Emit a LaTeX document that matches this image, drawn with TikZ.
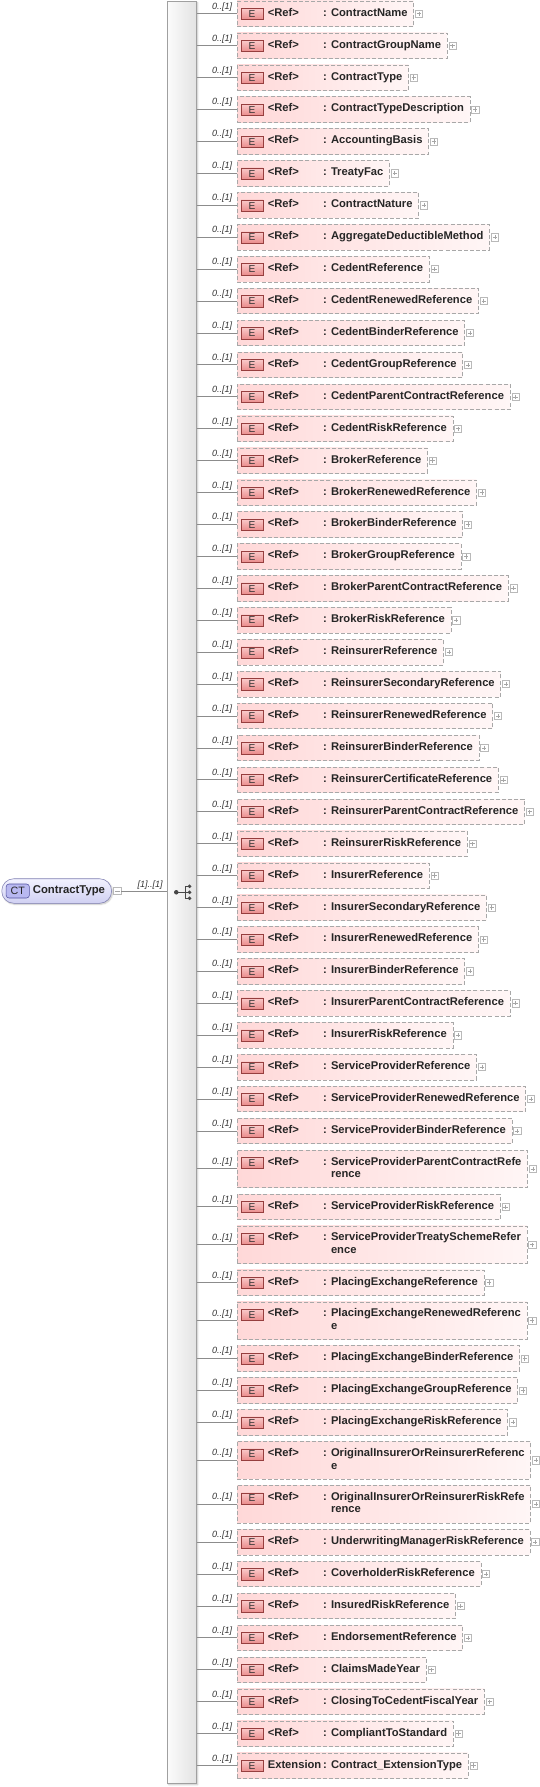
\documentclass[tikz,border=0pt]{standalone}
\usepackage{fontspec}
\setmainfont{Liberation Sans}
\setsansfont{Liberation Sans}
\usetikzlibrary{positioning,shadows.blur}

\definecolor{elemfill}{RGB}{255,216,216}
\definecolor{elemfade}{RGB}{255,246,246}
\definecolor{elemline}{RGB}{168,168,168}
\definecolor{badgetop}{RGB}{250,202,202}
\definecolor{badgebot}{RGB}{234,140,140}
\definecolor{badgeline}{RGB}{150,62,62}
\definecolor{cttop}{RGB}{242,242,255}
\definecolor{ctbot}{RGB}{208,208,242}
\definecolor{ctline}{RGB}{128,128,178}
\definecolor{ctbadgefill}{RGB}{184,184,240}
\definecolor{ctbadgeline}{RGB}{82,82,160}
\definecolor{barline}{RGB}{160,160,160}
\definecolor{connline}{RGB}{140,140,140}

% label field, colon, then the (possibly wrapped) type name
\newcommand{\refrow}[2]{\hspace*{18.6pt}\makebox[41.5pt][l]{#1}: \begin{tabular}[t]{@{}l@{}}#2\end{tabular}}

\begin{document}
\begin{tikzpicture}[
  x=0.75pt, y=-0.75pt,
  font=\sffamily,
  elem/.style={rectangle, draw=elemline, dash pattern=on 3pt off 1.6pt, left color=elemfill, right color=elemfade, inner xsep=4.5pt, inner ysep=4.65pt, outer sep=0pt, minimum height=19.1pt, font=\fontsize{8.4}{9.4}\selectfont\bfseries, text=black!85},
  badge/.style={rectangle, draw=badgeline, top color=badgetop, bottom color=badgebot, minimum width=16.5pt, minimum height=8.4pt, inner sep=0pt, font=\fontsize{7.6}{8}\selectfont, text=black!80},
  plusbox/.style={rectangle, draw=gray!55, fill=white, minimum size=5.4pt, inner sep=0pt, path picture={\draw[gray!70, line width=0.4pt] ([xshift=1.1pt]path picture bounding box.west) -- ([xshift=-1.1pt]path picture bounding box.east) ([yshift=-1.1pt]path picture bounding box.north) -- ([yshift=1.1pt]path picture bounding box.south);}},
  minusbox/.style={rectangle, draw=gray!55, fill=white, minimum size=5.6pt, inner sep=0pt, path picture={\draw[gray!70, line width=0.4pt] ([xshift=1.1pt]path picture bounding box.west) -- ([xshift=-1.1pt]path picture bounding box.east);}},
  mult/.style={inner sep=0pt, font=\fontsize{6.8}{7}\selectfont\itshape, text=black!80},
  conn/.style={draw=connline, line width=0.6pt},
  seqbar/.style={rectangle, draw=barline, left color=gray!3, right color=gray!22, inner sep=0pt, blur shadow={shadow xshift=1pt, shadow yshift=-1pt, shadow blur radius=1.2pt, shadow opacity=25}},
  ctnode/.style={rectangle, rounded corners=9pt, draw=ctline, top color=cttop, bottom color=ctbot, minimum height=18.4pt, inner xsep=4.9pt, font=\fontsize{8.5}{9.4}\selectfont\bfseries, text=black!85, blur shadow={shadow xshift=0.8pt, shadow yshift=-0.8pt, shadow blur radius=1pt, shadow opacity=25}},
  ctbadge/.style={rectangle, rounded corners=2.2pt, draw=ctbadgeline, fill=ctbadgefill, minimum width=17.5pt, minimum height=10.5pt, inner sep=0pt, font=\fontsize{8}{8}\selectfont, text=black!85},
  seqdot/.style={fill=black!72}
]
\useasboundingbox (0,0) rectangle (539,1787);

% sequence compositor bar
\node[seqbar, anchor=north west, minimum width=21.75pt, minimum height=1336.5pt] (seq) at (167,1) {};
\begin{scope}[shift={(seq.center)}]
  \draw[black!72, line width=0.6pt] (-5.5,0) -- (3.5,0) (3.5,-6) -- (3.5,6) (3.5,-6) -- (7.8,-6) (3.5,6) -- (7.8,6) (3.5,0) -- (7.8,0);
  \fill[seqdot] (-5.5,0) circle (1.7pt);
  \fill[seqdot] (7.8,-6) circle (1.45pt) (7.8,0) circle (1.45pt) (7.8,6) circle (1.45pt);
\end{scope}

% complex type
\node[ctnode, anchor=west] (ct) at (1.5,891) {\hspace*{18.4pt}ContractType};
\node[ctbadge] (ctb) at ([xshift=12.2pt]ct.west) {CT};
\node[minusbox, anchor=west] (ctm) at ([xshift=1.1pt]ct.east) {};
\coordinate (ctend) at (ctm.east -| seq.west);
\draw[conn] (ctm.east) -- (ctend);
\node[mult, anchor=base east] (ctmult) at ([shift={(-4,-3.5)}]ctend) {[1]..[1]};

% child elements
\node[elem, anchor=north west] (r1) at (237,1) {\refrow{<Ref>}{ContractName}};
\node[elem, below right=4.84pt and 0pt of r1.south west] (r2) {\refrow{<Ref>}{ContractGroupName}};
\node[elem, below right=4.84pt and 0pt of r2.south west] (r3) {\refrow{<Ref>}{ContractType}};
\node[elem, below right=4.84pt and 0pt of r3.south west] (r4) {\refrow{<Ref>}{ContractTypeDescription}};
\node[elem, below right=4.84pt and 0pt of r4.south west] (r5) {\refrow{<Ref>}{AccountingBasis}};
\node[elem, below right=4.84pt and 0pt of r5.south west] (r6) {\refrow{<Ref>}{TreatyFac}};
\node[elem, below right=4.84pt and 0pt of r6.south west] (r7) {\refrow{<Ref>}{ContractNature}};
\node[elem, below right=4.84pt and 0pt of r7.south west] (r8) {\refrow{<Ref>}{AggregateDeductibleMethod}};
\node[elem, below right=4.84pt and 0pt of r8.south west] (r9) {\refrow{<Ref>}{CedentReference}};
\node[elem, below right=4.84pt and 0pt of r9.south west] (r10) {\refrow{<Ref>}{CedentRenewedReference}};
\node[elem, below right=4.84pt and 0pt of r10.south west] (r11) {\refrow{<Ref>}{CedentBinderReference}};
\node[elem, below right=4.84pt and 0pt of r11.south west] (r12) {\refrow{<Ref>}{CedentGroupReference}};
\node[elem, below right=4.84pt and 0pt of r12.south west] (r13) {\refrow{<Ref>}{CedentParentContractReference}};
\node[elem, below right=4.84pt and 0pt of r13.south west] (r14) {\refrow{<Ref>}{CedentRiskReference}};
\node[elem, below right=4.84pt and 0pt of r14.south west] (r15) {\refrow{<Ref>}{BrokerReference}};
\node[elem, below right=4.84pt and 0pt of r15.south west] (r16) {\refrow{<Ref>}{BrokerRenewedReference}};
\node[elem, below right=4.84pt and 0pt of r16.south west] (r17) {\refrow{<Ref>}{BrokerBinderReference}};
\node[elem, below right=4.84pt and 0pt of r17.south west] (r18) {\refrow{<Ref>}{BrokerGroupReference}};
\node[elem, below right=4.84pt and 0pt of r18.south west] (r19) {\refrow{<Ref>}{BrokerParentContractReference}};
\node[elem, below right=4.84pt and 0pt of r19.south west] (r20) {\refrow{<Ref>}{BrokerRiskReference}};
\node[elem, below right=4.84pt and 0pt of r20.south west] (r21) {\refrow{<Ref>}{ReinsurerReference}};
\node[elem, below right=4.84pt and 0pt of r21.south west] (r22) {\refrow{<Ref>}{ReinsurerSecondaryReference}};
\node[elem, below right=4.84pt and 0pt of r22.south west] (r23) {\refrow{<Ref>}{ReinsurerRenewedReference}};
\node[elem, below right=4.84pt and 0pt of r23.south west] (r24) {\refrow{<Ref>}{ReinsurerBinderReference}};
\node[elem, below right=4.84pt and 0pt of r24.south west] (r25) {\refrow{<Ref>}{ReinsurerCertificateReference}};
\node[elem, below right=4.84pt and 0pt of r25.south west] (r26) {\refrow{<Ref>}{ReinsurerParentContractReference}};
\node[elem, below right=4.84pt and 0pt of r26.south west] (r27) {\refrow{<Ref>}{ReinsurerRiskReference}};
\node[elem, below right=4.84pt and 0pt of r27.south west] (r28) {\refrow{<Ref>}{InsurerReference}};
\node[elem, below right=4.84pt and 0pt of r28.south west] (r29) {\refrow{<Ref>}{InsurerSecondaryReference}};
\node[elem, below right=4.84pt and 0pt of r29.south west] (r30) {\refrow{<Ref>}{InsurerRenewedReference}};
\node[elem, below right=4.84pt and 0pt of r30.south west] (r31) {\refrow{<Ref>}{InsurerBinderReference}};
\node[elem, below right=4.84pt and 0pt of r31.south west] (r32) {\refrow{<Ref>}{InsurerParentContractReference}};
\node[elem, below right=4.84pt and 0pt of r32.south west] (r33) {\refrow{<Ref>}{InsurerRiskReference}};
\node[elem, below right=4.84pt and 0pt of r33.south west] (r34) {\refrow{<Ref>}{ServiceProviderReference}};
\node[elem, below right=4.84pt and 0pt of r34.south west] (r35) {\refrow{<Ref>}{ServiceProviderRenewedReference}};
\node[elem, below right=4.84pt and 0pt of r35.south west] (r36) {\refrow{<Ref>}{ServiceProviderBinderReference}};
\node[elem, below right=4.84pt and 0pt of r36.south west] (r37) {\refrow{<Ref>}{ServiceProviderParentContractRefe\\rence}};
\node[elem, below right=4.84pt and 0pt of r37.south west] (r38) {\refrow{<Ref>}{ServiceProviderRiskReference}};
\node[elem, below right=4.84pt and 0pt of r38.south west] (r39) {\refrow{<Ref>}{ServiceProviderTreatySchemeRefer\\ence}};
\node[elem, below right=4.84pt and 0pt of r39.south west] (r40) {\refrow{<Ref>}{PlacingExchangeReference}};
\node[elem, below right=4.84pt and 0pt of r40.south west] (r41) {\refrow{<Ref>}{PlacingExchangeRenewedReferenc\\e}};
\node[elem, below right=4.84pt and 0pt of r41.south west] (r42) {\refrow{<Ref>}{PlacingExchangeBinderReference}};
\node[elem, below right=4.84pt and 0pt of r42.south west] (r43) {\refrow{<Ref>}{PlacingExchangeGroupReference}};
\node[elem, below right=4.84pt and 0pt of r43.south west] (r44) {\refrow{<Ref>}{PlacingExchangeRiskReference}};
\node[elem, below right=4.84pt and 0pt of r44.south west] (r45) {\refrow{<Ref>}{OriginalInsurerOrReinsurerReferenc\\e}};
\node[elem, below right=4.84pt and 0pt of r45.south west] (r46) {\refrow{<Ref>}{OriginalInsurerOrReinsurerRiskRefe\\rence}};
\node[elem, below right=4.84pt and 0pt of r46.south west] (r47) {\refrow{<Ref>}{UnderwritingManagerRiskReference}};
\node[elem, below right=4.84pt and 0pt of r47.south west] (r48) {\refrow{<Ref>}{CoverholderRiskReference}};
\node[elem, below right=4.84pt and 0pt of r48.south west] (r49) {\refrow{<Ref>}{InsuredRiskReference}};
\node[elem, below right=4.84pt and 0pt of r49.south west] (r50) {\refrow{<Ref>}{EndorsementReference}};
\node[elem, below right=4.84pt and 0pt of r50.south west] (r51) {\refrow{<Ref>}{ClaimsMadeYear}};
\node[elem, below right=4.84pt and 0pt of r51.south west] (r52) {\refrow{<Ref>}{ClosingToCedentFiscalYear}};
\node[elem, below right=4.84pt and 0pt of r52.south west] (r53) {\refrow{<Ref>}{CompliantToStandard}};
\node[elem, below right=4.84pt and 0pt of r53.south west] (r54) {\refrow{Extension}{Contract\_ExtensionType}};

% badge, expand box, connector and occurrence for every child
\foreach \i in {1,...,54}{
  \node[badge] (b\i) at ([shift={(15,13)}]r\i.north west) {E};
  \node[plusbox, anchor=west] (p\i) at ([xshift=1.1pt]r\i.east) {};
  \draw[conn] (r\i.west -| seq.east) -- (r\i.west);
  \node[mult, anchor=base east] (m\i) at ([shift={(-4.5,-4.5)}]r\i.west) {0..[1]};
}
\end{tikzpicture}
\end{document}
